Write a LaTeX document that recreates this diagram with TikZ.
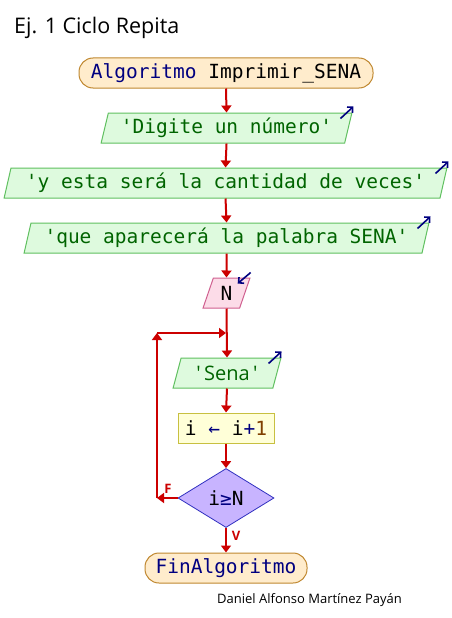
\documentclass[tikz,border=0pt]{standalone}
\usepackage{fontspec}
\setmainfont{Open Sans}
\newfontfamily\monof{DejaVu Sans Mono}
\usetikzlibrary{shapes.geometric,arrows.meta,calc}
\definecolor{flowred}{RGB}{204,0,0}
\definecolor{kwblue}{RGB}{0,0,128}
\definecolor{txtgreen}{RGB}{0,100,0}
\definecolor{numbrown}{RGB}{128,64,0}
\definecolor{termfill}{RGB}{255,236,204}
\definecolor{termdraw}{RGB}{192,136,48}
\definecolor{outfill}{RGB}{222,250,222}
\definecolor{outdraw}{RGB}{96,192,96}
\definecolor{infill}{RGB}{252,220,232}
\definecolor{indraw}{RGB}{208,96,144}
\definecolor{procfill}{RGB}{255,255,216}
\definecolor{procdraw}{RGB}{200,192,64}
\definecolor{decfill}{RGB}{200,180,255}
\definecolor{decdraw}{RGB}{48,48,192}
\tikzset{
  monotext/.style={font=\monof\fontsize{19.5}{21}\selectfont},
  term/.style={monotext, draw=termdraw, fill=termfill, line width=1pt, rounded corners=14pt,
    minimum height=30pt, inner sep=0pt},
  para/.style={trapezium, trapezium left angle=72, trapezium right angle=108,
    trapezium stretches=true, minimum height=30pt, inner sep=0pt, line width=1pt},
  outbox/.style={para, monotext, draw=outdraw, fill=outfill, text=txtgreen},
  inbox/.style={para, monotext, draw=indraw, fill=infill},
  procbox/.style={monotext, draw=procdraw, fill=procfill, line width=1pt, minimum width=96pt,
    minimum height=30pt, inner sep=0pt},
  decbox/.style={diamond, monotext, draw=decdraw, fill=decfill, line width=0.8pt,
    minimum width=96pt, minimum height=59pt, inner sep=0pt},
  flow/.style={draw=flowred, line width=2pt, -{Triangle[length=7pt,width=10pt]}},
  ioarrow/.style={draw=kwblue, line width=1.6pt, -{Straight Barb[length=4pt,width=8pt]}},
  flowlabel/.style={text=flowred, font=\bfseries\fontsize{13}{14}\selectfont, inner sep=0pt}
}
\begin{document}
\begin{tikzpicture}[x=1pt,y=-1pt]
\fill[white] (0,0) rectangle (452,618);
\useasboundingbox (0,0) rectangle (452,618);

\node[anchor=base west, inner sep=0pt, font=\fontsize{21.5}{24}\selectfont] (title) at (14,34) {Ej. 1 Ciclo Repita};

\node[term, minimum width=294pt] (start) at (226,73) {\textcolor{kwblue}{Algoritmo} Imprimir\_SENA};
\node[outbox, minimum width=251pt] (o1) at (226.5,128) {'Digite un número'};
\node[outbox, minimum width=443pt] (o2) at (225.5,183) {'y esta será la cantidad de veces'};
\node[outbox, minimum width=407pt] (o3) at (226.5,238) {'que aparecerá la palabra SENA'};
\node[inbox, minimum width=47pt] (n) at (226.5,293) {N};
\node[outbox, minimum width=108pt, trapezium left angle=70, trapezium right angle=110, font=\fontsize{20}{21}\selectfont] (sena) at (227,373) {\textquotesingle\,Sena\,\textquotesingle};
\node[procbox] (proc) at (226,428) {i \textcolor{kwblue}{←} i\textcolor{kwblue}{+}\textcolor{numbrown}{1}};
\node[decbox] (dec) at (226,498) {i\textcolor{kwblue}{≥}N};
\node[term, minimum width=162pt] (fin) at (226,568) {\textcolor{kwblue}{FinAlgoritmo}};

\coordinate (j) at (226,333);
\coordinate (fl) at (157,498);
\coordinate (ft) at (157,333);

\draw[flow] (start.south) -- (o1.north);
\draw[flow] (o1.south) -- (o2.north);
\draw[flow] (o2.south) -- (o3.north);
\draw[flow] (o3.south) -- (n.north);
\draw[flow] (n.south) -- (sena.north);
\draw[flow] (sena.south) -- (proc.north);
\draw[flow] (proc.south) -- (dec.north);
\draw[flow] (dec.south) -- (fin.north);
\draw[flow] (dec.west) -- (fl);
\draw[flow] (fl) -- (ft);
\draw[flow] (ft) -- (j);

\node[flowlabel] (flab) at (168,489) {F};
\node[flowlabel] (vlab) at (236,536) {V};

\draw[ioarrow] ($(o1.top right corner)+(-12,6)$) -- ($(o1.top right corner)+(1,-6)$);
\draw[ioarrow] ($(o2.top right corner)+(-12,6)$) -- ($(o2.top right corner)+(1,-6)$);
\draw[ioarrow] ($(o3.top right corner)+(-12,6)$) -- ($(o3.top right corner)+(1,-6)$);
\draw[ioarrow] ($(sena.top right corner)+(-13,6)$) -- ($(sena.top right corner)+(0,-6)$);
\draw[ioarrow] ($(n.top right corner)+(0,-5)$) -- ($(n.top right corner)+(-13,6)$);

\node[anchor=base west, inner sep=0pt, font=\fontsize{13}{15}\selectfont] (author) at (217,603) {Daniel Alfonso Martínez Payán};
\end{tikzpicture}
\end{document}
